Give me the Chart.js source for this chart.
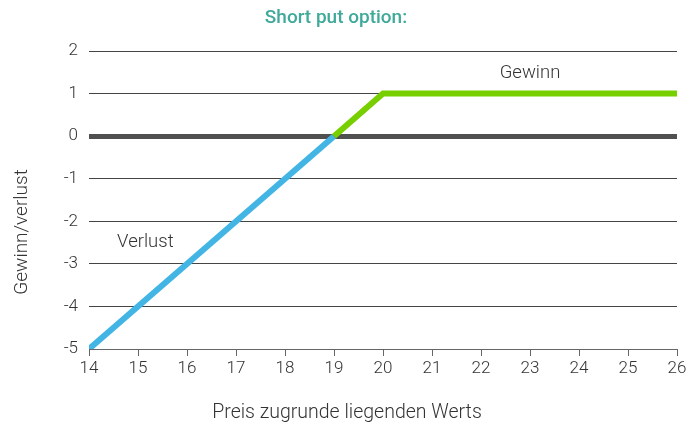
<!DOCTYPE html>
<html>
<head>
<meta charset="utf-8">
<script src="https://cdn.jsdelivr.net/npm/chart.js@4/dist/chart.umd.min.js"></script>
<style>
html,body{margin:0;padding:0;background:#fff;}
#wrap{width:698px;height:425px;position:relative;}
</style>
</head>
<body>
<div id="wrap"><canvas id="c" width="698" height="425"></canvas></div>
<script>
const chartTitle = "Short put option:";
const xAxisTitle = "Preis zugrunde liegenden Werts";
const yAxisTitle = "Gewinn/verlust";
const lossPrices = [14, 19];
const lossValues = [-5, 0];
const gainPrices = [19, 20, 26];
const gainValues = [0, 1, 1];
const labelTexts = ["Gewinn", "Verlust"];
const labelPrices = [23, 15.15];
const labelValues = [1.48, -2.5];

const FONT = "Roboto, 'Noto Sans', sans-serif";

const textPlugin = {
  id: 'texts',
  afterDraw(chart) {
    const ctx = chart.ctx;
    const xs = chart.scales.x, ys = chart.scales.y;
    ctx.save();
    ctx.textAlign = 'center';
    ctx.textBaseline = 'middle';
    ctx.fillStyle = '#3fa99a';
    ctx.font = "500 19px " + FONT;
    ctx.fillText(chartTitle, 336, 18);
    ctx.fillStyle = '#333';
    ctx.font = "300 19.5px " + FONT;
    ctx.fillText(xAxisTitle, 347, 413);
    ctx.save();
    ctx.translate(22, 232);
    ctx.rotate(-Math.PI / 2);
    ctx.font = "300 19px " + FONT;
    ctx.fillText(yAxisTitle, 0, 0);
    ctx.restore();
    ctx.font = "300 18.5px " + FONT;
    for (let i = 0; i < labelTexts.length; i++) {
      ctx.fillText(labelTexts[i], xs.getPixelForValue(labelPrices[i]), ys.getPixelForValue(labelValues[i]));
    }
    ctx.restore();
  }
};

new Chart(document.getElementById('c'), {
  type: 'line',
  data: {
    datasets: [
      {
        data: gainPrices.map((p, i) => ({x: p, y: gainValues[i]})),
        borderColor: '#77cf00',
        borderWidth: 6,
        pointRadius: 0,
        tension: 0,
        fill: false
      },
      {
        data: lossPrices.map((p, i) => ({x: p, y: lossValues[i]})),
        borderColor: '#42b5e5',
        borderWidth: 6,
        pointRadius: 0,
        tension: 0,
        fill: false
      }
    ]
  },
  options: {
    responsive: false,
    animation: false,
    layout: { padding: { left: 0, right: 21, top: 51, bottom: 0 } },
    plugins: { legend: { display: false }, tooltip: { enabled: false }, title: { display: false } },
    scales: {
      x: {
        type: 'linear',
        min: 14, max: 26,
        ticks: { stepSize: 1, color: '#333', font: { family: FONT, size: 17, weight: 300 }, padding: 3, maxRotation: 0 },
        grid: { drawOnChartArea: false, drawTicks: true, tickLength: 7, color: '#666', lineWidth: 1 },
        border: { display: true, color: '#666', width: 1 },
        afterFit(s) { s.height = 76; }
      },
      y: {
        min: -5, max: 2,
        ticks: { stepSize: 1, color: '#333', font: { family: FONT, size: 17, weight: 300 }, padding: 11 },
        grid: {
          drawTicks: false,
          color: (c) => c.tick && c.tick.value === 0 ? '#505050' : '#444',
          lineWidth: (c) => c.tick && c.tick.value === 0 ? 5 : 1
        },
        border: { display: false },
        afterFit(s) { s.width = 89; }
      }
    }
  },
  plugins: [textPlugin]
});
</script>
</body>
</html>
